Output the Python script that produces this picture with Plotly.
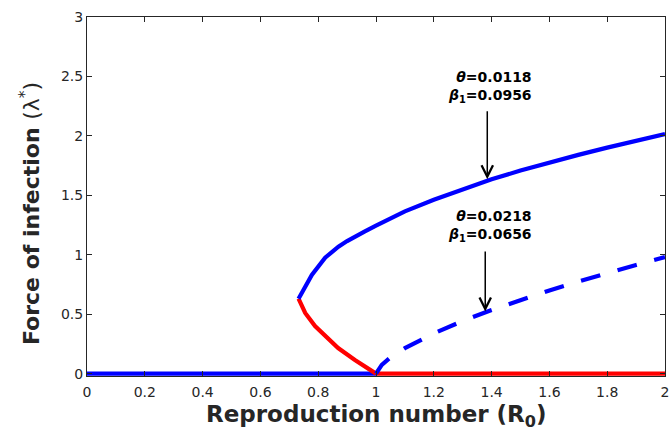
import plotly.graph_objects as go

# Reproduction number grid and equilibrium branches (force of infection λ*)
r0_upper = [0.732, 0.778, 0.824, 0.87, 0.9, 0.93, 0.96, 1.0, 1.1, 1.2, 1.3, 1.4, 1.5, 1.6, 1.7, 1.8, 1.9, 2.0]
lam_upper = [0.63, 0.83, 0.975, 1.068, 1.115, 1.158, 1.195, 1.245, 1.365, 1.462, 1.553, 1.635, 1.708, 1.776, 1.84, 1.901, 1.959, 2.015]

r0_lower = [0.732, 0.755, 0.789, 0.824, 0.869, 0.927, 1.0]
lam_lower = [0.63, 0.51, 0.40, 0.315, 0.215, 0.115, 0.0]

r0_second = [1.0, 1.02, 1.05, 1.1, 1.2, 1.3, 1.4, 1.5, 1.6, 1.7, 1.8, 1.9, 2.0]
lam_second = [0.0, 0.074, 0.136, 0.214, 0.339, 0.443, 0.535, 0.620, 0.700, 0.774, 0.846, 0.914, 0.98]

r0_dfe_stable = [0.0, 1.0]
r0_dfe_unstable = [1.0, 2.0]
lam_dfe = [0.0, 0.0]

x_ticks = [0, 0.2, 0.4, 0.6, 0.8, 1, 1.2, 1.4, 1.6, 1.8, 2]
y_ticks = [0, 0.5, 1, 1.5, 2, 2.5, 3]

BLUE = "#0000ff"
RED = "#ff0000"
LW = 4.2
TXT = "#262626"

fig = go.Figure()
fig.add_trace(go.Scatter(x=r0_dfe_stable, y=lam_dfe, mode="lines",
                         line=dict(color=BLUE, width=LW)))
fig.add_trace(go.Scatter(x=r0_dfe_unstable, y=lam_dfe, mode="lines",
                         line=dict(color=RED, width=LW)))
fig.add_trace(go.Scatter(x=r0_lower, y=lam_lower, mode="lines",
                         line=dict(color=RED, width=LW)))
fig.add_trace(go.Scatter(x=r0_upper, y=lam_upper, mode="lines",
                         line=dict(color=BLUE, width=LW)))
fig.add_trace(go.Scatter(x=r0_second, y=lam_second, mode="lines",
                         line=dict(color=BLUE, width=LW, dash="20px,18px")))

# Parameter labels with arrows pointing at each endemic branch
ann_font = dict(family="DejaVu Sans, sans-serif", size=14, color="#000000")
labels = [
    ("<b><i>θ</i>=0.0118</b><br><b><i>β</i><sub>1</sub>=0.0956</b>", 1.385, 1.636, 2.22, 2.41),
    ("<b><i>θ</i>=0.0218</b><br><b><i>β</i><sub>1</sub>=0.0656</b>", 1.378, 0.523, 1.04, 1.245),
]
for text, ax_x, tip_y, tail_y, text_y in labels:
    fig.add_annotation(x=ax_x, y=tip_y, ax=ax_x, ay=tail_y, xref="x", yref="y",
                       axref="x", ayref="y", text="", showarrow=True,
                       arrowhead=5, arrowsize=1.5, arrowwidth=1.5, arrowcolor="#000000")
    fig.add_annotation(x=1.546, y=text_y, xref="x", yref="y", text=text,
                       showarrow=False, align="right", xanchor="right", yanchor="middle",
                       font=ann_font)

# Axis titles
fig.add_annotation(x=0.5, y=0, xref="paper", yref="paper", yshift=-23,
                   xanchor="center", yanchor="top", showarrow=False,
                   text="<b>Reproduction number (R<sub>0</sub>)</b>",
                   font=dict(family="DejaVu Sans, sans-serif", size=23, color=TXT))
fig.add_annotation(x=0, y=0.451, xref="paper", yref="paper", xshift=-57,
                   xanchor="center", yanchor="middle", showarrow=False, textangle=-90,
                   text="<b>Force of infection </b>(λ<sup>*</sup>)",
                   font=dict(family="DejaVu Sans, sans-serif", size=22, color=TXT))

axis_common = dict(showline=True, linecolor=TXT, linewidth=1, mirror="ticks",
                   ticks="inside", ticklen=5, tickwidth=1, tickcolor=TXT,
                   showgrid=False, zeroline=False, ticklabeloverflow="allow",
                   tickfont=dict(family="DejaVu Sans, sans-serif", size=14, color=TXT))

fig.update_layout(
    width=670, height=431,
    margin=dict(l=87, r=1, t=17, b=55),
    paper_bgcolor="white", plot_bgcolor="white",
    showlegend=False,
    xaxis=dict(range=[0, 2], tickvals=x_ticks, ticktext=[f"{v:g}" for v in x_ticks],
               ticklabelstandoff=3, **axis_common),
    yaxis=dict(range=[-0.02, 3], tickvals=y_ticks, ticktext=[f"{v:g}" for v in y_ticks],
               **axis_common),
)

fig.write_html("out.html")
